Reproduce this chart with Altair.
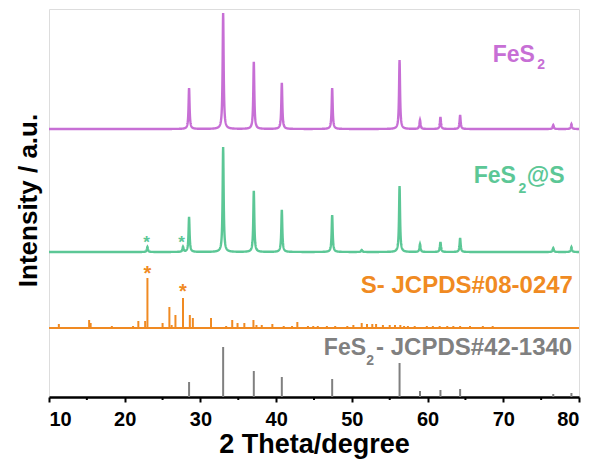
import altair as alt
import numpy as np
import pandas as pd

# ---- Measured patterns: peak positions (2θ, degrees) and heights (a.u.) ----
fes2_pos = [28.5, 33.0, 37.05, 40.75, 47.4, 56.3, 59.0, 61.7, 64.3, 76.6, 79.0]
fes2_height = [41, 116, 67, 46, 41, 69, 9, 12, 14, 4, 5]
fes2_offset = 268

fes2s_pos = [23.0, 27.7, 28.5, 33.0, 37.05, 40.75, 47.4, 51.3, 56.3, 59.0, 61.7, 64.3, 76.6, 79.0]
fes2s_height = [5, 5, 35, 105, 61, 42, 37, 2, 66, 8, 10, 14, 4, 5]
fes2s_offset = 145

# ---- Reference cards ----
s_card_pos = [11.3, 15.3, 15.5, 18.3, 21.1, 21.8, 22.7, 23.0, 25.0, 25.9, 26.2, 26.7,
              27.7, 28.6, 29.0, 31.4, 33.4, 34.2, 34.9, 35.8, 37.0, 37.4, 38.1, 39.5,
              41.0, 42.1, 42.8, 44.2, 44.9, 45.5, 46.7, 47.8, 49.4, 50.2, 51.3, 52.0,
              52.7, 53.2, 54.1, 55.0, 55.7, 56.4, 56.9, 57.4, 58.3, 59.9, 60.7, 61.6,
              62.6, 63.4, 64.3, 65.6, 67.3, 68.6]
s_card_height = [4, 8, 5, 2, 2, 7, 7, 50, 5, 21, 3, 13,
                 30, 13, 10, 10, 2, 8, 5, 5, 8, 3, 3, 4,
                 2, 2, 6, 2, 2, 2, 2, 2, 2, 3, 5, 4,
                 4, 4, 3, 3, 3, 3, 2, 2, 2, 2, 2, 2,
                 2, 2, 2, 2, 2, 2]
s_card_offset = 69

fes2_card_pos = [28.5, 33.0, 37.05, 40.75, 47.4, 56.3, 59.0, 61.7, 64.3, 76.6, 79.0]
fes2_card_height = [15, 50, 26, 20, 18, 34, 6, 7, 8, 3, 4]
fes2_card_offset = 0

x_major = [10, 20, 30, 40, 50, 60, 70, 80]
x_minor = [15, 25, 35, 45, 55, 65, 75]

PURPLE = "#C76FD5"
GREEN = "#5CC796"
ORANGE = "#F08A22"
GRAY = "#808080"
FONT = "Liberation Sans"


def profile(pos, heights, offset, hwhm=0.08):
    """Sum of Lorentzian peaks on a flat background."""
    grid = np.union1d(np.round(np.arange(10, 80.0001, 0.02), 3), pos)
    y = np.full(grid.shape, float(offset))
    for p, h in zip(pos, heights):
        y += h / (1.0 + ((grid - p) / hwhm) ** 2)
    return pd.DataFrame({"two_theta": grid, "intensity": y})


def sticks(pos, heights, offset):
    return pd.DataFrame({
        "two_theta": pos,
        "base": [offset] * len(pos),
        "top": [offset + h for h in heights],
    })


x_scale = alt.Scale(domain=[10, 80], nice=False, zero=False)
y_scale = alt.Scale(domain=[0, 388], nice=False, zero=False)

x_axis = alt.Axis(
    values=x_major, format="d", grid=False, title="2 Theta/degree",
    labelFont=FONT, labelFontSize=20, labelFontWeight="bold", labelColor="black",
    labelPadding=7, tickSize=5, tickWidth=2, tickColor="black",
    domainColor="black", domainWidth=2.5,
    titleFont=FONT, titleFontSize=27, titleFontWeight="bold", titleColor="black",
    titleY=55, titleBaseline="alphabetic",
)
y_axis = alt.Axis(
    labels=False, ticks=False, domain=False, grid=False, title="Intensity / a.u.",
    titleFont=FONT, titleFontSize=26, titleFontWeight="bold", titleColor="black",
    titleX=-13, titleY=191, titleAngle=-90, titleBaseline="alphabetic", titleAlign="center",
)


def X(field):
    return alt.X(field, type="quantitative", scale=x_scale, axis=x_axis)


def Y(field):
    return alt.Y(field, type="quantitative", scale=y_scale, axis=y_axis)


def curve(df, color):
    return alt.Chart(df).mark_line(color=color, strokeWidth=2.4, interpolate="linear").encode(
        x=X("two_theta"), y=Y("intensity"))


def card(df, color, width):
    return alt.Chart(df).mark_rule(color=color, strokeWidth=width).encode(
        x=X("two_theta"), y=Y("base"), y2="top")


fes2_line = curve(profile(fes2_pos, fes2_height, fes2_offset), PURPLE)
fes2s_line = curve(profile(fes2s_pos, fes2s_height, fes2s_offset), GREEN)
s_card = card(sticks(s_card_pos, s_card_height, s_card_offset), ORANGE, 2)
fes2_card = card(sticks(fes2_card_pos, fes2_card_height, fes2_card_offset), GRAY, 2)

s_base_line = alt.Chart(pd.DataFrame({"start": [10], "end": [80], "level": [s_card_offset]})).mark_rule(
    color=ORANGE, strokeWidth=2).encode(x=X("start"), x2="end", y=Y("level"))

minor_ticks = alt.Chart(pd.DataFrame({"two_theta": x_minor})).mark_rule(
    color="black", strokeWidth=2).encode(x=X("two_theta"), y=alt.value(389), y2=alt.value(391))

# ---- Sulfur reflections marked with stars ----
green_stars = pd.DataFrame({"two_theta": [22.9, 27.5], "level": [159, 159], "mark": ["*", "*"]})
orange_stars = pd.DataFrame({"two_theta": [23.0, 27.7], "level": [128, 110], "mark": ["*", "*"]})

green_star_layer = alt.Chart(green_stars).mark_text(
    font=FONT, fontSize=17, fontWeight="bold", color=GREEN, baseline="alphabetic", dy=10).encode(
    x=X("two_theta"), y=Y("level"), text="mark")
orange_star_layer = alt.Chart(orange_stars).mark_text(
    font=FONT, fontSize=20, fontWeight="bold", color=ORANGE, baseline="alphabetic", dy=11).encode(
    x=X("two_theta"), y=Y("level"), text="mark")

# ---- Series labels (chemical formulas with subscripts) ----
left_labels = pd.DataFrame({
    "text": ["FeS", "2", "FeS", "2", "@S", "FeS", "2"],
    "two_theta": [68.6, 74.5, 66.1, 72.0, 73.1, 46.3, 51.9],
    "level": [335, 328, 214, 204, 214, 42, 32],
    "fsize": [23, 14, 23, 14, 23, 23, 14],
    "color": [PURPLE, PURPLE, GREEN, GREEN, GREEN, GRAY, GRAY],
})
right_labels = pd.DataFrame({
    "text": ["S- JCPDS#08-0247", "- JCPDS#42-1340"],
    "two_theta": [79.2, 79.1],
    "level": [104, 42],
    "fsize": [24, 24],
    "color": [ORANGE, GRAY],
})


def label_layer(df, align):
    return alt.Chart(df).mark_text(
        font=FONT, fontWeight="bold", align=align, baseline="alphabetic").encode(
        x=X("two_theta"), y=Y("level"), text="text",
        size=alt.Size("fsize:Q", scale=None, legend=None),
        color=alt.Color("color:N", scale=None, legend=None))


chart = alt.layer(
    s_base_line, s_card, fes2_card, fes2s_line, fes2_line, minor_ticks,
    green_star_layer, orange_star_layer,
    label_layer(left_labels, "left"), label_layer(right_labels, "right"),
).properties(
    width=530, height=388,
    autosize=alt.AutoSizeParams(type="none"),
    padding={"left": 49, "top": 9, "right": 15, "bottom": 62},
).configure_view(stroke="black", strokeWidth=2.5).configure(font=FONT, background="white")

chart.save("out.html", embed_options={"renderer": "svg", "actions": False})
